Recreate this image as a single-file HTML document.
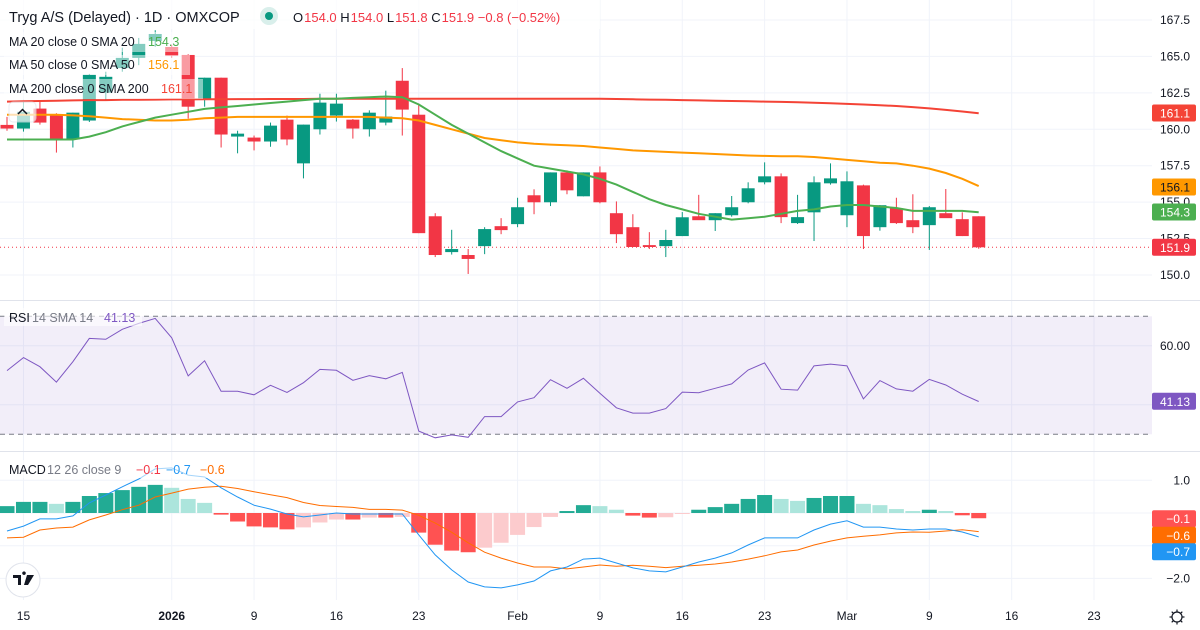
<!DOCTYPE html>
<html><head><meta charset="utf-8"><style>
html,body{margin:0;padding:0;background:#fff;overflow:hidden}
svg{display:block;font-family:"Liberation Sans",sans-serif}
</style></head><body>
<svg id="c" width="1200" height="630" viewBox="0 0 1200 630"></svg>
<script>
const opens=[160.3,160.05,161.42,161.0,159.3,160.6,162.51,164.2,164.9,166.06,165.65,165.1,162.03,163.54,159.5,159.43,159.16,160.66,157.66,160.0,160.94,160.66,160.0,160.46,163.33,161.0,154.03,151.57,151.37,151.98,153.35,153.49,155.47,154.99,157.04,155.4,157.04,154.24,153.28,152.05,151.98,152.67,154.03,153.76,154.1,154.99,156.36,156.77,153.56,154.3,156.29,154.1,156.15,153.28,154.58,153.76,153.42,154.24,153.83,154.03];
const highs=[160.85,161.96,161.96,161.1,161.14,163.8,163.95,165.6,166.27,166.8,165.8,165.15,163.54,163.54,159.9,159.57,160.46,160.94,160.32,162.44,162.44,160.7,161.3,162.65,164.2,161.76,154.24,153.1,151.78,153.28,153.9,155.3,155.88,157.04,157.18,157.04,157.45,155.05,154.17,152.94,153.1,154.32,155.5,154.24,155.42,156.36,157.73,156.97,155.5,156.77,157.66,157.11,156.2,154.8,155.3,155.54,154.73,155.9,154.3,154.03];
const lows=[159.9,159.84,160.32,158.4,158.75,160.5,162.03,163.95,164.4,165.66,164.9,160.73,161.55,158.75,158.35,158.55,158.8,158.9,156.63,159.64,160.53,159.36,159.5,160.27,159.57,152.87,151.23,151.4,150.07,151.43,152.8,153.28,154.17,154.73,155.54,155.4,154.92,152.19,151.92,151.78,151.23,152.67,153.9,153.02,154.0,154.92,156.22,153.56,153.5,152.33,156.2,153.28,151.78,153.04,153.5,152.87,151.72,154.1,152.67,151.8];
const closes=[160.05,161.2,160.46,159.3,161.14,163.74,163.6,164.9,165.86,166.54,165.04,161.55,163.54,159.64,159.7,159.16,160.25,159.3,160.32,161.83,161.76,160.05,161.14,160.87,161.35,152.87,151.37,151.78,151.1,153.15,153.08,154.65,154.99,157.04,155.81,157.04,154.99,152.8,151.92,151.92,152.4,153.96,153.76,154.24,154.65,155.95,156.77,153.97,153.97,156.36,156.63,156.43,152.67,154.79,153.56,153.28,154.65,153.9,152.67,151.9];
const ma20=[159.3,159.3,159.3,159.3,159.3,159.5,159.8,160.2,160.5,160.8,161.0,161.2,161.4,161.5,161.6,161.7,161.8,161.9,162.0,162.1,162.1,162.15,162.2,162.25,162.2,161.7,161.0,160.3,159.7,159.1,158.5,158.0,157.5,157.3,157.1,156.9,156.6,156.2,155.7,155.2,154.8,154.5,154.2,154.0,153.8,153.9,154.0,154.2,154.4,154.5,154.7,154.8,154.8,154.7,154.6,154.4,154.4,154.4,154.4,154.3];
const ma50=[161.0,161.0,161.0,161.0,160.95,160.9,160.8,160.7,160.65,160.6,160.6,160.65,160.75,160.8,160.85,160.85,160.85,160.85,160.85,160.85,160.85,160.85,160.85,160.8,160.75,160.6,160.3,160.0,159.7,159.4,159.25,159.1,159.0,158.95,158.9,158.85,158.75,158.65,158.55,158.5,158.45,158.4,158.35,158.3,158.25,158.2,158.17,158.15,158.15,158.1,158.0,157.9,157.8,157.7,157.66,157.5,157.3,157.0,156.6,156.1];
const ma200=[161.9,161.92,161.94,161.96,161.98,162.0,162.0,162.02,162.03,162.04,162.05,162.05,162.06,162.06,162.07,162.07,162.08,162.08,162.08,162.09,162.1,162.1,162.1,162.1,162.1,162.1,162.1,162.1,162.1,162.1,162.1,162.1,162.1,162.1,162.1,162.1,162.1,162.08,162.06,162.04,162.02,162.0,161.98,161.96,161.94,161.92,161.9,161.88,161.85,161.82,161.78,161.74,161.7,161.65,161.6,161.52,161.43,161.33,161.22,161.1];
const rsi=[51.6,56.0,52.9,47.7,54.6,62.5,62.2,65.6,67.6,69.3,62.7,49.8,54.9,44.6,44.6,43.4,46.6,44.2,47.5,52.0,51.7,48.3,49.9,48.8,51.0,31.1,28.8,29.8,29.0,36.0,36.0,41.0,42.4,48.5,45.6,49.0,43.9,39.0,37.2,37.2,38.7,44.3,44.1,45.6,47.1,51.8,54.2,45.3,45.0,53.2,53.8,53.2,42.0,48.2,45.4,44.6,48.6,46.7,43.6,41.13];
const macd=[-0.55,-0.40,-0.18,-0.18,-0.09,0.31,0.55,0.80,1.04,1.35,1.38,1.16,1.10,0.77,0.49,0.24,0.12,-0.03,-0.12,-0.06,0,-0.03,-0.03,-0.03,-0.03,-0.67,-1.28,-1.74,-2.11,-2.26,-2.29,-2.2,-2.08,-1.77,-1.65,-1.41,-1.38,-1.53,-1.68,-1.77,-1.8,-1.65,-1.5,-1.38,-1.22,-0.98,-0.76,-0.76,-0.76,-0.52,-0.34,-0.24,-0.43,-0.43,-0.49,-0.52,-0.49,-0.49,-0.58,-0.73];
const signal=[-0.76,-0.74,-0.52,-0.46,-0.43,-0.21,-0.06,0.10,0.24,0.49,0.61,0.73,0.79,0.82,0.75,0.65,0.56,0.47,0.32,0.23,0.2,0.17,0.11,0.11,0.09,-0.07,-0.31,-0.59,-0.91,-1.2,-1.38,-1.53,-1.65,-1.65,-1.71,-1.65,-1.59,-1.63,-1.6,-1.63,-1.67,-1.63,-1.6,-1.56,-1.5,-1.41,-1.31,-1.19,-1.13,-0.98,-0.86,-0.76,-0.71,-0.67,-0.61,-0.58,-0.59,-0.55,-0.51,-0.57];
const hist=[0.21,0.34,0.34,0.28,0.34,0.52,0.61,0.70,0.80,0.86,0.77,0.43,0.31,-0.05,-0.26,-0.41,-0.44,-0.5,-0.44,-0.29,-0.2,-0.2,-0.14,-0.14,-0.12,-0.6,-0.97,-1.15,-1.2,-1.06,-0.91,-0.67,-0.43,-0.12,0.06,0.24,0.21,0.1,-0.08,-0.14,-0.13,-0.02,0.1,0.18,0.28,0.43,0.55,0.43,0.37,0.46,0.52,0.52,0.28,0.24,0.12,0.06,0.1,0.06,-0.07,-0.16];
const priceTicks=["150.0","152.5","155.0","157.5","160.0","162.5","165.0","167.5"];
const rsiTicks=["60.00"];
const macdTicks=["1.0","-2.0"];
const timeLabels=["15","2026","9","16","23","Feb","9","16","23","Mar","9","16","23"];
const timeIdx=[1,10,15,20,25,31,36,41,46,51,56,61,66];

const NS="http://www.w3.org/2000/svg";
const svg=document.getElementById('c');
function mk(tag,attrs,parent){const e=document.createElementNS(NS,tag);for(const k in attrs)e.setAttribute(k,attrs[k]);(parent||svg).appendChild(e);return e;}
const PW=1152;
const xOf=i=>7+i*16.47;
const yP=p=>20+(167.5-p)*14.57;
const yR=v=>316.3+(70-v)*2.95;
const yM=v=>513+(-v)*32.7;
const GREEN="#089981",RED="#f23645";

// grids
const grid=mk('g',{});


timeIdx.forEach(i=>{mk('line',{x1:xOf(i),x2:xOf(i),y1:0,y2:600,stroke:'#f0f3fa','stroke-width':1},grid);});
priceTicks.forEach(t=>{const y=yP(parseFloat(t));mk('line',{x1:0,x2:PW,y1:y,y2:y,stroke:'#f0f3fa'},grid);});
[60,40].forEach(v=>mk('line',{x1:0,x2:PW,y1:yR(v),y2:yR(v),stroke:'#f0f3fa'},grid));
[1,0,-1,-2].forEach(v=>mk('line',{x1:0,x2:PW,y1:yM(v),y2:yM(v),stroke:'#f0f3fa'},grid));
// dividers
mk('line',{x1:0,x2:1200,y1:300.5,y2:300.5,stroke:'#e0e3eb'});
mk('line',{x1:0,x2:1200,y1:451.5,y2:451.5,stroke:'#e0e3eb'});

// price candles
const cg=mk('g',{});


closes.forEach((c,i)=>{
  const o=opens[i],col=c>=o?GREEN:RED,x=xOf(i);
  const g=mk('g',{},cg);
  
  
  mk('line',{x1:x,x2:x,y1:yP(highs[i]),y2:yP(lows[i]),stroke:col,'stroke-width':1},g);
  const t=yP(Math.max(o,c)),b=yP(Math.min(o,c));
  mk('rect',{x:x-6.5,y:t,width:13,height:Math.max(1,b-t),fill:col},g);
});
function line(arr,fy,col,w,name){const d=arr.map((v,i)=>(i?'L':'M')+xOf(i).toFixed(1)+' '+fy(v).toFixed(1)).join(' ');const p=mk('path',{d:d,fill:'none',stroke:col,'stroke-width':w});return p;}
// extend MAs to left edge
line(ma200,yP,'#f44336',2,'ma200-line');
line(ma50,yP,'#ff9800',2,'ma50-line');
line(ma20,yP,'#4caf50',2,'ma20-line');
const lastY=yP(closes[closes.length-1]);
const pl=mk('line',{x1:0,x2:PW,y1:lastY,y2:lastY,stroke:RED,'stroke-dasharray':'1 3'});



// legend (semi-transparent bg over candles)
const lg=mk('g',{});


mk('rect',{x:0,y:0,width:600,height:29,fill:'#fff',opacity:0.75},lg);
const title=mk('text',{x:9,y:22,'font-size':14.5,fill:'#131722'},lg);title.textContent='Tryg A/S (Delayed) · 1D · OMXCOP';


mk('circle',{cx:269,cy:16,r:9,fill:'#d9efeb'},lg);mk('circle',{cx:269,cy:16,r:4,fill:GREEN},lg);
const ohlc=mk('text',{x:293,y:22,'font-size':13,fill:RED},lg);


[['O','154.0'],['H','154.0'],['L','151.8'],['C','151.9']].forEach(([k,v])=>{const a=mk('tspan',{fill:'#131722'},ohlc);a.textContent=k;const b=mk('tspan',{dx:1},ohlc);b.textContent=v+' ';});
const chg=mk('tspan',{},ohlc);chg.textContent=' −0.8 (−0.52%)';
[['MA 20 close 0 SMA 20','154.3','#4caf50',46,148,'ma20-legend'],['MA 50 close 0 SMA 50','156.1','#ff9800',69,148,'ma50-legend'],['MA 200 close 0 SMA 200','161.1','#f44336',93,161,'ma200-legend']].forEach(r=>{
  mk('rect',{x:4,y:r[3]-14,width:r[4]+38,height:20,fill:'#fff',opacity:0.5},lg);
  const t=mk('text',{x:9,y:r[3],'font-size':12.5,fill:'#131722'},lg);t.textContent=r[0];
  
  
  const v=mk('text',{x:r[4],y:r[3],'font-size':12.5,fill:r[2]},lg);v.textContent=r[1];
});
const cb=mk('g',{});


mk('rect',{x:9,y:102,width:27,height:20,rx:4,fill:'#fff',opacity:0.7,stroke:'#e0e3eb'},cb);
mk('path',{d:'M18 114 L22.5 109.5 L27 114',fill:'none',stroke:'#131722','stroke-width':1.5},cb);

// RSI panel
const rg=mk('g',{});


mk('rect',{x:0,y:yR(70),width:PW,height:yR(30)-yR(70),fill:'rgba(126,87,194,0.1)'},rg);
[70,30].forEach(v=>mk('line',{x1:0,x2:PW,y1:yR(v),y2:yR(v),stroke:'#787b86','stroke-dasharray':'5 4'},rg));
line(rsi,yR,'#7e57c2',1,'rsi-line');
mk('rect',{x:4,y:308,width:138,height:18,fill:'#fff',opacity:0.6});
const rt=mk('text',{x:9,y:322,'font-size':12.5,fill:'#131722'});rt.textContent='RSI';


const rt2=mk('text',{x:32,y:322,'font-size':12.5,fill:'#787b86'});rt2.textContent='14 SMA 14';
const rv=mk('text',{x:104,y:322,'font-size':12.5,fill:'#7e57c2'});rv.textContent='41.13';

// MACD panel
const mg=mk('g',{});


hist.forEach((h,i)=>{
  const prev=i?hist[i-1]:h;
  let col;
  if(h>=0) col=h>=prev?'#22ab94':'#ace5dc'; else col=h<=prev?'#ff5252':'#fccbcd';
  const y0=yM(0),y1=yM(h);
  const r=mk('rect',{x:xOf(i)-7.5,y:Math.min(y0,y1),width:15,height:Math.max(1,Math.abs(y1-y0)),fill:col},mg);
  
  
});
line(signal,yM,'#ff6d00',1,'macd-signal-line');
line(macd,yM,'#2196f3',1,'macd-line');
mk('rect',{x:4,y:460,width:226,height:18,fill:'#fff',opacity:0.6});
const mt=mk('text',{x:9,y:474,'font-size':12.5,fill:'#131722'});mt.textContent='MACD';


const mt2=mk('text',{x:47,y:474,'font-size':12.5,fill:'#787b86'});mt2.textContent='12 26 close 9';
[['−0.1',136,'#f23645'],['−0.7',166,'#2196f3'],['−0.6',200,'#ff6d00']].forEach(a=>{const t=mk('text',{x:a[1],y:474,'font-size':12.5,fill:a[2]});t.textContent=a[0];});

// TV logo
const logo=mk('g',{});


mk('circle',{cx:23,cy:580,r:17,fill:'#fff',stroke:'#e0e3eb'},logo);
mk('path',{d:'M13 575h8v10h-3v-7h-5z M24 575a1.8 1.8 0 1 1 0.01 0z M27 575h7l-6 10h-4z',fill:'#131722'},logo);

// axes labels
const ax=mk('g',{'font-size':12,fill:'#131722'});


priceTicks.forEach(t=>{const e=mk('text',{x:1190,y:yP(parseFloat(t))+4,'text-anchor':'end'},ax);e.textContent=t;});
rsiTicks.forEach(t=>{const e=mk('text',{x:1190,y:yR(parseFloat(t))+4,'text-anchor':'end'},ax);e.textContent=t;});
macdTicks.forEach(t=>{const e=mk('text',{x:1190,y:yM(parseFloat(t))+4,'text-anchor':'end'},ax);e.textContent=t.replace('-','−');});
function badge(y,txt,bg,fg,name){const g=mk('g',{});mk('rect',{x:1152,y:y-8.5,width:44,height:17,rx:2,fill:bg},g);const t=mk('text',{x:1190,y:y+4.5,'text-anchor':'end','font-size':12,fill:fg},g);t.textContent=txt;}
badge(113,'161.1','#f44336','#fff','ma200-badge');
badge(187,'156.1','#ff9800','#131722','ma50-badge');
badge(212,'154.3','#4caf50','#fff','ma20-badge');
badge(lastY,'151.9',RED,'#fff','last-price-badge');
badge(401.3,'41.13','#7e57c2','#fff','rsi-badge');
badge(518.7,'−0.1','#ff5252','#fff','macd-hist-badge');
badge(535.3,'−0.6','#ff6d00','#fff','signal-badge');
badge(551.7,'−0.7','#2196f3','#fff','macd-badge');
const tx=mk('g',{'font-size':12,fill:'#131722','text-anchor':'middle'});


timeLabels.forEach((l,k)=>{const e=mk('text',{x:xOf(timeIdx[k]),y:620,'font-weight':l==='2026'?'bold':'normal'},tx);e.textContent=l;});
const gear=mk('g',{});


mk('circle',{cx:1177,cy:617,r:5,fill:'none',stroke:'#131722','stroke-width':1.2},gear);
for(let a=0;a<8;a++){const r=a*Math.PI/4;mk('line',{x1:1177+5*Math.cos(r),y1:617+5*Math.sin(r),x2:1177+7.5*Math.cos(r),y2:617+7.5*Math.sin(r),stroke:'#131722','stroke-width':1.2},gear);}
</script>
</body></html>
